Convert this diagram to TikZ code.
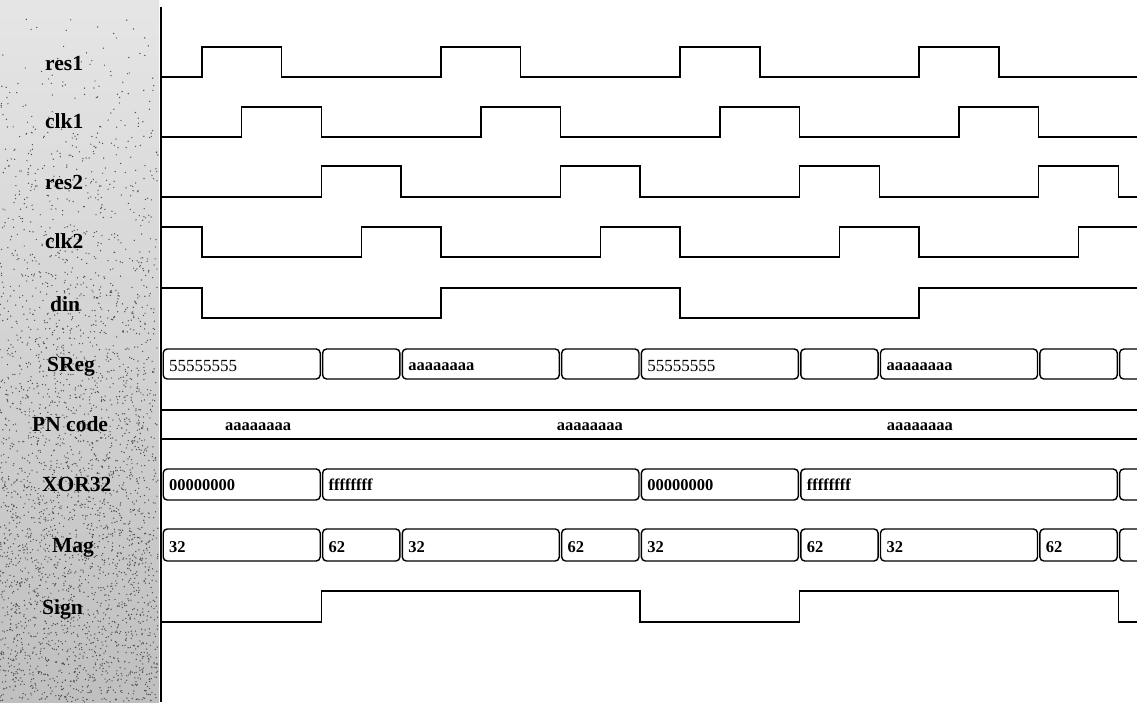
\documentclass[tikz,border=0pt]{standalone}
\usepackage{fontspec}
\setmainfont{Liberation Serif}
\newcommand\tdbox[4]{\draw[bus] ([xshift=1.2pt]#1,#3) rectangle ([xshift=-1.2pt]#2,#4);}
\begin{document}
\begin{tikzpicture}[x=1pt,y=-1pt,
  sig/.style={line width=1.5pt, line join=miter, line cap=rect},
  bus/.style={line width=1.4pt, rounded corners=4pt},
  lbl/.style={font=\fontsize{21.5}{24}\selectfont\bfseries, inner sep=0pt, anchor=base west},
  val/.style={font=\fontsize{16.5}{18}\selectfont\bfseries, inner sep=0pt, anchor=base west, xshift=7pt},
  pn/.style={font=\fontsize{16.5}{18}\selectfont\bfseries, inner sep=0pt, anchor=base},
]
\useasboundingbox (0,0) rectangle (1137,702);
% textured label panel
\shade[top color=gray!20, bottom color=gray!50] (0,0) rectangle (159,702);
\pgfmathsetseed{11}
\foreach \i in {1,...,3200} {
  \fill[black!70] ({rnd*158},{702*sqrt(rnd)}) circle (0.7pt);
}
\draw[line width=2pt] (161,7) -- (161,702);
% labels
\node[lbl] (lres1) at (45,70)  {res1};
\node[lbl] (lclk1) at (45,128) {clk1};
\node[lbl] (lres2) at (45,189) {res2};
\node[lbl] (lclk2) at (45,248) {clk2};
\node[lbl] (ldin)  at (50,311) {din};
\node[lbl] (lsreg) at (47,371) {SReg};
\node[lbl] (lpn)   at (32,431) {PN code};
\node[lbl] (lxor)  at (42,491) {XOR32};
\node[lbl] (lmag)  at (52,552) {Mag};
\node[lbl] (lsign) at (42,614) {Sign};
\begin{scope}
\clip (162,0) rectangle (1137,702);
\begin{scope}[shift={(162pt,0pt)}, x=39.85pt]
% waveforms
\draw[sig] (0,77) -| (1,47) -| (3,77) -| (7,47) -| (9,77) -| (13,47) -| (15,77) -| (19,47) -| (21,77) -- (24.6,77);
\draw[sig] (0,137) -| (2,107) -| (4,137) -| (8,107) -| (10,137) -| (14,107) -| (16,137) -| (20,107) -| (22,137) -- (24.6,137);
\draw[sig] (0,197) -| (4,166) -| (6,197) -| (10,166) -| (12,197) -| (16,166) -| (18,197) -| (22,166) -| (24,197) -- (24.6,197);
\draw[sig] (0,227) -| (1,257) -| (5,227) -| (7,257) -| (11,227) -| (13,257) -| (17,227) -| (19,257) -| (23,227) -- (24.6,227);
\draw[sig] (0,288) -| (1,318) -| (7,288) -| (13,318) -| (19,288) -- (24.6,288);
\draw[sig] (0,622) -| (4,591) -| (12,622) -| (16,591) -| (24,622) -- (24.6,622);
% SReg bus
\tdbox{0}{4}{349}{379}
\tdbox{4}{6}{349}{379}
\tdbox{6}{10}{349}{379}
\tdbox{10}{12}{349}{379}
\tdbox{12}{16}{349}{379}
\tdbox{16}{18}{349}{379}
\tdbox{18}{22}{349}{379}
\tdbox{22}{24}{349}{379}
\tdbox{24}{25}{349}{379}
\node[val, font=\fontsize{17}{18}\selectfont] (s1) at (0,371) {55555555};
\node[val] (s2) at (6,370) {aaaaaaaa};
\node[val, font=\fontsize{17}{18}\selectfont] (s3) at (12,371) {55555555};
\node[val] (s4) at (18,370) {aaaaaaaa};
% PN code
\draw[sig] (0.03,410) -- (24.6,410);
\draw[sig] (0.03,439) -- (24.6,439);
\node[pn] (p1) at (2.41,430) {aaaaaaaa};
\node[pn] (p2) at (10.74,430) {aaaaaaaa};
\node[pn] (p3) at (19.02,430) {aaaaaaaa};
% XOR32 bus
\tdbox{0}{4}{469}{500}
\tdbox{4}{12}{469}{500}
\tdbox{12}{16}{469}{500}
\tdbox{16}{24}{469}{500}
\tdbox{24}{25}{469}{500}
\node[val] (x1) at (0,490) {00000000};
\node[val] (x2) at (4,490) {ffffffff};
\node[val] (x3) at (12,490) {00000000};
\node[val] (x4) at (16,490) {ffffffff};
% Mag bus
\tdbox{0}{4}{529}{561}
\tdbox{4}{6}{529}{561}
\tdbox{6}{10}{529}{561}
\tdbox{10}{12}{529}{561}
\tdbox{12}{16}{529}{561}
\tdbox{16}{18}{529}{561}
\tdbox{18}{22}{529}{561}
\tdbox{22}{24}{529}{561}
\tdbox{24}{25}{529}{561}
\node[val] (m1) at (0,552) {32};
\node[val] (m2) at (4,552) {62};
\node[val] (m3) at (6,552) {32};
\node[val] (m4) at (10,552) {62};
\node[val] (m5) at (12,552) {32};
\node[val] (m6) at (16,552) {62};
\node[val] (m7) at (18,552) {32};
\node[val] (m8) at (22,552) {62};
\end{scope}
\end{scope}
\end{tikzpicture}
\end{document}
